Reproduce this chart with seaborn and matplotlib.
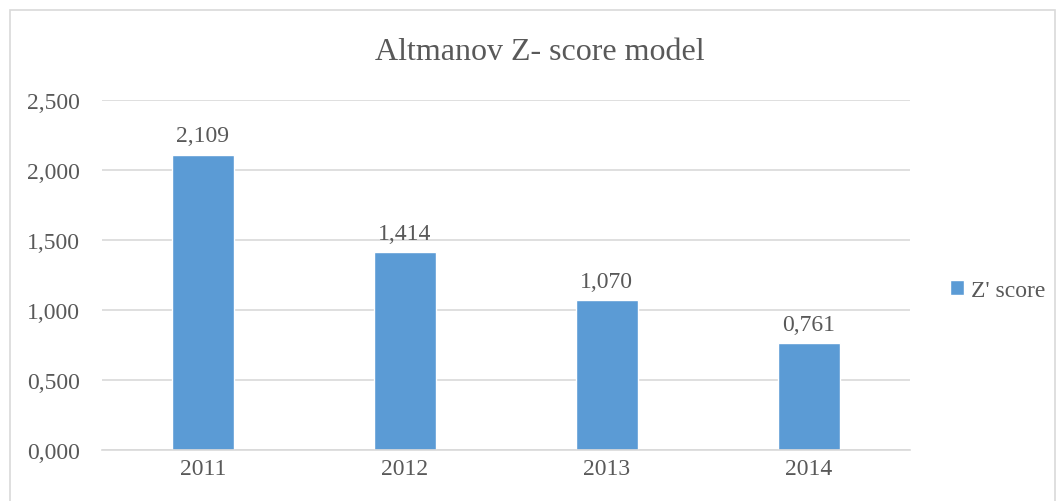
import seaborn as sns
import matplotlib.pyplot as plt
import pandas as pd
from matplotlib.patches import Rectangle
from matplotlib.ticker import FuncFormatter

years = ["2011", "2012", "2013", "2014"]
z_score = [2.109, 1.414, 1.070, 0.761]

df = pd.DataFrame({"year": years, "score": z_score})

sns.set_theme(style="white")
plt.rcParams["font.family"] = ["Liberation Serif", "DejaVu Serif"]
txt = "#595959"

fig = plt.figure(figsize=(10.58, 5.02), dpi=100)
ax = fig.add_axes([0.0964, 0.1016, 0.7636, 0.6972])

sns.barplot(data=df, x="year", y="score", color="#5B9BD5", width=0.31,
            saturation=1, ax=ax, label="Z' score")

ax.set_ylim(0, 2.5)
ax.set_yticks([0, 0.5, 1.0, 1.5, 2.0, 2.5])
ax.yaxis.set_major_formatter(FuncFormatter(lambda v, p: f"{v:.3f}".replace(".", ",")))
ax.grid(axis="y", color="#D9D9D9", linewidth=1.2)
ax.set_axisbelow(True)
for s in ["top", "right", "left"]:
    ax.spines[s].set_visible(False)
ax.spines["bottom"].set_color("#D9D9D9")
ax.spines["bottom"].set_linewidth(1.2)
ax.tick_params(axis="both", length=0, labelsize=17, colors=txt)
ax.tick_params(axis="y", pad=16)
ax.tick_params(axis="x", pad=6)
ax.set_xlabel("")
ax.set_ylabel("")

ax.bar_label(ax.containers[0], labels=[f"{v:.3f}".replace(".", ",") for v in z_score],
             fontsize=17, color=txt, padding=6)

fig.text(0.51, 0.895, "Altmanov Z- score model", ha="center", va="center",
         fontsize=23, color=txt)

leg = ax.legend(loc="center left", bbox_to_anchor=(0.878, 0.42),
                bbox_transform=fig.transFigure, frameon=False, fontsize=17,
                handlelength=0.6, handleheight=0.6, handletextpad=0.3)
for t in leg.get_texts():
    t.set_color(txt)

fig.patches.append(Rectangle((10 / 1058, -0.02), 1045 / 1058, 1 - 11 / 502 + 0.02,
                             transform=fig.transFigure, fill=False,
                             edgecolor="#D9D9D9", linewidth=1.2))

fig.savefig("out.png", dpi=100)
